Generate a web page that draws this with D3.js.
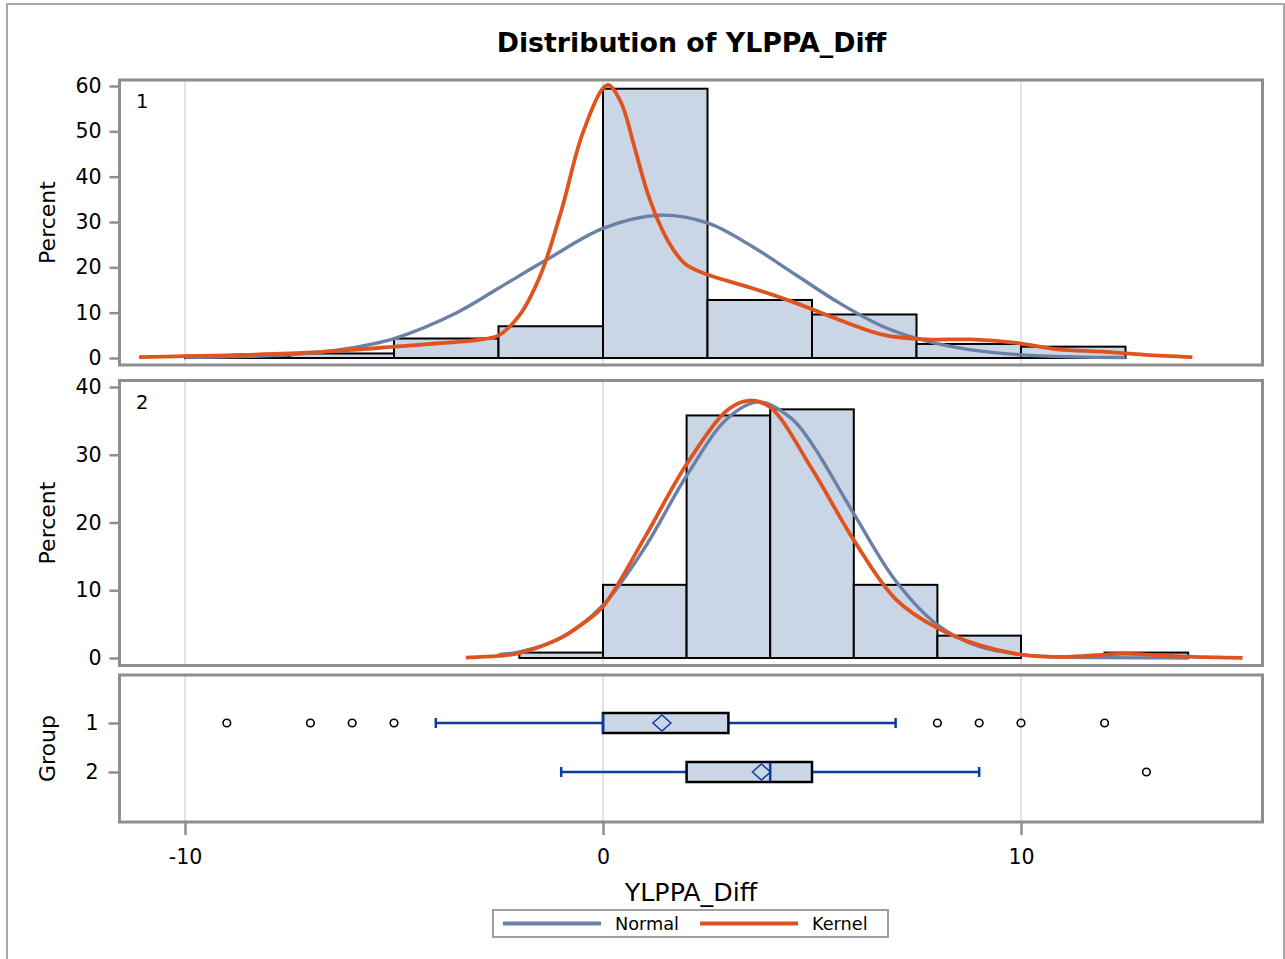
<!DOCTYPE html>
<html>
<head>
<meta charset="utf-8">
<script src="https://cdn.jsdelivr.net/npm/d3@7"></script>
<style>
  body { margin: 0; background: #fff; }
  text { font-family: "DejaVu Sans", sans-serif; fill: #000; }
</style>
</head>
<body>
<div id="chart"></div>
<script>
// values
const xTicks = [-10, 0, 10];
const y1Ticks = [0, 10, 20, 30, 40, 50, 60];
const y2Ticks = [0, 10, 20, 30, 40];
const groups = ["1", "2"];

// group 1 histogram (bin width 2.5)
const hist1Start = [-10, -7.5, -5, -2.5, 0, 2.5, 5, 7.5, 10];
const hist1Pct = [0.5, 1.0, 4.3, 7.0, 59.4, 12.8, 9.6, 3.1, 2.5];
const hist1Width = 2.5;

// group 2 histogram (bin width 2)
const hist2Start = [-2, 0, 2, 4, 6, 8, 10, 12];
const hist2Pct = [0.8, 10.8, 35.8, 36.7, 10.8, 3.3, 0, 0.8];
const hist2Width = 2;

// fitted curves, points
const normal1X = [-10, -8.75, -7.5, -6.25, -5, -3.5, -2.5, -1.36, 0, 1.35, 2.53, 3.57, 4.62, 5.66, 6.71, 7.75, 8.8, 10, 11.25, 12.5];
const normal1Y = [0.1, 0.3, 0.7, 1.9, 4.3, 10.0, 15.4, 21.6, 28.6, 31.5, 29.7, 24.6, 18.3, 12.1, 6.9, 3.7, 1.8, 0.7, 0.25, 0.1];
const kernel1X = [-11.1, -10, -9, -7.5, -6, -5, -4, -3, -2.5, -2.0, -1.5, -1.0, -0.5, 0, 0.14, 0.44, 0.75, 1.07, 1.38, 1.69, 2.0, 2.53, 3.57, 4.62, 5.66, 6.71, 7.75, 8.8, 9.84, 10.88, 11.93, 12.97, 14.1];
const kernel1Y = [0.2, 0.4, 0.6, 1.0, 1.8, 2.5, 3.2, 4.0, 5.0, 9.4, 18.2, 32.4, 49.2, 59.5, 60.2, 56.2, 46.6, 36.3, 29.0, 23.8, 20.5, 18.3, 15.4, 12.1, 8.4, 5.1, 4.1, 4.1, 3.4, 1.9, 1.4, 0.7, 0.2];
const normal2X = [-2.5, -2, -1, 0, 1, 2, 3, 3.74, 4.5, 5, 6, 7, 8, 9, 10, 11, 12, 13, 14];
const normal2Y = [0.5, 0.9, 3.0, 7.8, 16.3, 26.9, 35.5, 37.8, 35.4, 31.6, 21.3, 11.4, 4.9, 1.7, 0.5, 0.15, 0.05, 0.02, 0];
const kernel2X = [-3.28, -2.5, -2, -1, -0.5, 0, 1, 2, 3, 3.5, 4, 5, 6, 7, 8, 9, 10, 11, 12, 12.5, 13, 14, 15.3];
const kernel2Y = [0.05, 0.3, 0.7, 3.0, 5.0, 7.6, 17.8, 28.6, 36.7, 38.0, 37.0, 27.9, 17.4, 8.7, 4.4, 1.9, 0.5, 0.15, 0.5, 0.65, 0.5, 0.2, 0.02];

// box plot summary per group
const boxLow = [-4, -1];
const boxQ1 = [0, 2];
const boxMedian = [0, 4];
const boxQ3 = [3, 5];
const boxHigh = [7, 9];
const boxMean = [1.41, 3.79];
const outliers1 = [-9, -7, -6, -5, 8, 9, 10, 12];
const outliers2 = [13];

const width = 1285, height = 959;
const plotLeft = 119.5, plotRight = 1262.5;
const panel1 = {top: 80, bottom: 365};
const panel2 = {top: 380.5, bottom: 665.5};
const panel3 = {top: 675, bottom: 822};

const histFill = "#cad5e5", normalColor = "#6a80a6", kernelColor = "#e0531f";
const whiskerColor = "#0b3c9f", frameColor = "#8e8e8e", gridColor = "#e3e3e3";

const svg = d3.select("#chart")
  .append("svg")
  .attr("width", width)
  .attr("height", height);

svg.append("rect")
  .attr("width", width).attr("height", height).attr("fill", "#fff");

// outer border
svg.append("rect")
  .attr("x", 7).attr("y", 4)
  .attr("width", 1277).attr("height", 980)
  .attr("fill", "none").attr("stroke", "#a8a8a8").attr("stroke-width", 2);

// scales
const x = d3.scaleLinear().domain([-10, 10]).range([185, 1021]);
const y1 = d3.scaleLinear().domain([0, 60]).range([358, 86]);
const y2 = d3.scaleLinear().domain([0, 40]).range([658, 387]);
const yGroup = d3.scalePoint().domain(groups).range([723, 772]);

// title
svg.append("text")
  .attr("x", 691.5).attr("y", 52)
  .attr("text-anchor", "middle")
  .style("font-size", "26.8px").style("font-weight", "bold")
  .text("Distribution of YLPPA_Diff");

// grid lines in every panel
[panel1, panel2, panel3].forEach(p => {
  svg.append("g").selectAll("line")
    .data(xTicks)
    .enter().append("line")
    .attr("x1", d => x(d)).attr("x2", d => x(d))
    .attr("y1", p.top).attr("y2", p.bottom)
    .attr("stroke", gridColor).attr("stroke-width", 2);
});

const line = (xs, ys, yScale) => d3.line()
  .x((d, i) => x(xs[i]))
  .y(d => yScale(d))
  .curve(d3.curveCatmullRom.alpha(0.5))(ys);

function drawHistPanel(p, yScale, starts, pct, binW, nX, nY, kX, kY, ticks, label) {
  svg.append("g").selectAll("rect")
    .data(starts)
    .enter().append("rect")
    .attr("x", d => x(d))
    .attr("width", d => x(d + binW) - x(d))
    .attr("y", (d, i) => yScale(pct[i]))
    .attr("height", (d, i) => yScale(0) - yScale(pct[i]))
    .attr("fill", histFill)
    .attr("stroke", "#000")
    .attr("stroke-width", 2);

  svg.append("path")
    .attr("d", line(nX, nY, yScale))
    .attr("fill", "none").attr("stroke", normalColor).attr("stroke-width", 3.4);

  svg.append("path")
    .attr("d", line(kX, kY, yScale))
    .attr("fill", "none").attr("stroke", kernelColor).attr("stroke-width", 3.8);

  // frame
  svg.append("rect")
    .attr("x", plotLeft).attr("y", p.top)
    .attr("width", plotRight - plotLeft).attr("height", p.bottom - p.top)
    .attr("fill", "none").attr("stroke", frameColor).attr("stroke-width", 3);

  const ax = svg.append("g")
    .attr("transform", "translate(" + plotLeft + ",0)")
    .call(d3.axisLeft(yScale).tickValues(ticks).tickSize(10).tickPadding(8));
  ax.select(".domain").remove();
  ax.selectAll("line").attr("stroke", frameColor).attr("stroke-width", 2.5);
  ax.selectAll("text").style("font-size", "20.5px").attr("fill", "#000");

  svg.append("text")
    .attr("x", 136).attr("y", p.top + 28)
    .style("font-size", "19.5px")
    .text(label);

  svg.append("text")
    .attr("transform", "translate(55," + ((p.top + p.bottom) / 2) + ") rotate(-90)")
    .attr("text-anchor", "middle")
    .style("font-size", "22px")
    .text("Percent");
}

drawHistPanel(panel1, y1, hist1Start, hist1Pct, hist1Width, normal1X, normal1Y, kernel1X, kernel1Y, y1Ticks, "1");
drawHistPanel(panel2, y2, hist2Start, hist2Pct, hist2Width, normal2X, normal2Y, kernel2X, kernel2Y, y2Ticks, "2");

// box plot panel
const boxH = 10;
const boxes = svg.append("g").selectAll("g")
  .data(groups)
  .enter().append("g");

boxes.append("line")
  .attr("x1", (d, i) => x(boxLow[i])).attr("x2", (d, i) => x(boxHigh[i]))
  .attr("y1", d => yGroup(d)).attr("y2", d => yGroup(d))
  .attr("stroke", whiskerColor).attr("stroke-width", 2.5);

boxes.selectAll(".cap")
  .data((d, i) => [boxLow[i], boxHigh[i]].map(v => ({v: v, g: d})))
  .enter().append("line")
  .attr("class", "cap")
  .attr("x1", c => x(c.v)).attr("x2", c => x(c.v))
  .attr("y1", c => yGroup(c.g) - 5).attr("y2", c => yGroup(c.g) + 5)
  .attr("stroke", whiskerColor).attr("stroke-width", 2.5);

boxes.append("rect")
  .attr("x", (d, i) => x(boxQ1[i]))
  .attr("width", (d, i) => x(boxQ3[i]) - x(boxQ1[i]))
  .attr("y", d => yGroup(d) - boxH)
  .attr("height", boxH * 2)
  .attr("fill", histFill).attr("stroke", "#000").attr("stroke-width", 2.5);

boxes.append("line")
  .attr("x1", (d, i) => x(boxMedian[i])).attr("x2", (d, i) => x(boxMedian[i]))
  .attr("y1", d => yGroup(d) - boxH + 1).attr("y2", d => yGroup(d) + boxH - 1)
  .attr("stroke", whiskerColor).attr("stroke-width", 2.5);

boxes.append("path")
  .attr("d", (d, i) => {
    const cx = x(boxMean[i]), cy = yGroup(d);
    return "M" + (cx - 9) + "," + cy + "L" + cx + "," + (cy - 8) + "L" + (cx + 9) + "," + cy + "L" + cx + "," + (cy + 8) + "Z";
  })
  .attr("fill", "none").attr("stroke", whiskerColor).attr("stroke-width", 1.5);

const outlierData = outliers1.map(v => ({v: v, g: "1"})).concat(outliers2.map(v => ({v: v, g: "2"})));
svg.append("g").selectAll("circle")
  .data(outlierData)
  .enter().append("circle")
  .attr("cx", d => x(d.v)).attr("cy", d => yGroup(d.g))
  .attr("r", 3.8)
  .attr("fill", "none").attr("stroke", "#000").attr("stroke-width", 1.6);

svg.append("rect")
  .attr("x", plotLeft).attr("y", panel3.top)
  .attr("width", plotRight - plotLeft).attr("height", panel3.bottom - panel3.top)
  .attr("fill", "none").attr("stroke", frameColor).attr("stroke-width", 3);

const gAxis = svg.append("g")
  .attr("transform", "translate(" + plotLeft + ",0)")
  .call(d3.axisLeft(yGroup).tickSize(11).tickPadding(10));
gAxis.select(".domain").remove();
gAxis.selectAll("line").attr("stroke", frameColor).attr("stroke-width", 2.5);
gAxis.selectAll("text").style("font-size", "20.5px").attr("fill", "#000");

svg.append("text")
  .attr("transform", "translate(55," + ((panel3.top + panel3.bottom) / 2) + ") rotate(-90)")
  .attr("text-anchor", "middle")
  .style("font-size", "22px")
  .text("Group");

// x axis
const xAxis = svg.append("g")
  .attr("transform", "translate(0," + panel3.bottom + ")")
  .call(d3.axisBottom(x).tickValues(xTicks).tickFormat(d => String(d)).tickSize(13).tickPadding(14));
xAxis.select(".domain").remove();
xAxis.selectAll("line").attr("stroke", frameColor).attr("stroke-width", 2.5);
xAxis.selectAll("text").style("font-size", "20.5px").attr("fill", "#000");

svg.append("text")
  .attr("x", 691).attr("y", 901)
  .attr("text-anchor", "middle")
  .style("font-size", "25.3px")
  .text("YLPPA_Diff");

// legend
const legend = svg.append("g");
legend.append("rect")
  .attr("x", 493).attr("y", 910).attr("width", 395).attr("height", 27)
  .attr("fill", "#fff").attr("stroke", "#a0a0a0").attr("stroke-width", 2);
const legendItems = [
  {name: "Normal", color: normalColor, x0: 503, tx: 615},
  {name: "Kernel", color: kernelColor, x0: 700, tx: 812}
];
legendItems.forEach(d => {
  legend.append("line")
    .attr("x1", d.x0).attr("x2", d.x0 + 98)
    .attr("y1", 923.5).attr("y2", 923.5)
    .attr("stroke", d.color).attr("stroke-width", 4);
  legend.append("text")
    .attr("x", d.tx).attr("y", 930)
    .style("font-size", "17.7px")
    .text(d.name);
});
</script>
</body>
</html>
